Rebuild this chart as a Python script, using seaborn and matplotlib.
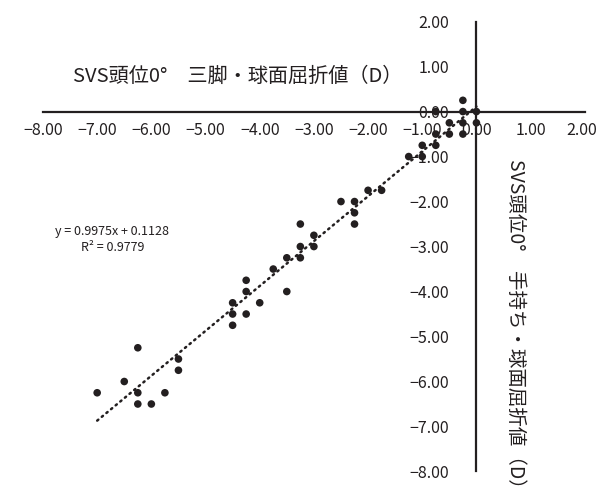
import numpy as np
import pandas as pd
import matplotlib
matplotlib.use('Agg')
import matplotlib.pyplot as plt
import matplotlib.transforms as mtransforms
import seaborn as sns

# SVS head position 0 deg: tripod (x) vs hand-held (y) spherical refraction (D)
tripod = [-7.00, -6.50, -6.25, -6.25, -6.25, -6.00, -5.75, -5.50, -5.50,
          -4.50, -4.50, -4.50, -4.25, -4.25, -4.25, -4.00, -3.75, -3.50,
          -3.50, -3.25, -3.25, -3.25, -3.00, -3.00, -2.50, -2.25, -2.25,
          -2.25, -2.00, -1.75, -1.25, -1.00, -1.00, -0.75, -0.75, -0.50,
          -0.25, -0.50, -0.25, 0.00, -0.75, -0.25, 0.00, -0.25]
handheld = [-6.25, -6.00, -5.25, -6.25, -6.50, -6.50, -6.25, -5.50, -5.75,
            -4.25, -4.50, -4.75, -4.50, -4.00, -3.75, -4.25, -3.50, -4.00,
            -3.25, -3.25, -3.00, -2.50, -3.00, -2.75, -2.00, -2.00, -2.25,
            -2.50, -1.75, -1.75, -1.00, -1.00, -0.75, -0.75, -0.50, -0.50,
            -0.50, -0.25, -0.25, -0.25, 0.00, 0.00, 0.00, 0.25]
slope = 0.9975
intercept = 0.1128
r2 = 0.9779
ticks = [-8, -7, -6, -5, -4, -3, -2, -1, 0, 1, 2]
tick_labels = ['−8.00', '−7.00', '−6.00', '−5.00', '−4.00', '−3.00',
               '−2.00', '−1.00', '0.00', '1.00', '2.00']
x_title = 'SVS頭位0°\u3000三脚・球面屈折値（D）'
y_title = 'SVS頭位0°\u3000手持ち・球面屈折値（D）'

df = pd.DataFrame({'tripod': tripod, 'handheld': handheld})

sns.set_style('white')
plt.rcParams['font.family'] = ['Noto Sans CJK JP', 'DejaVu Sans']

fig = plt.figure(figsize=(5.98, 5.01), dpi=100)
ax = fig.add_axes([0.0719, 0.0589, 0.906, 0.898])

ink = '#231f20'
sns.scatterplot(data=df, x='tripod', y='handheld', ax=ax, color=ink,
                s=30, edgecolor='none', legend=False, zorder=3)

# linear trendline over the data range
xs = np.array([df['tripod'].min(), df['tripod'].max()])
ax.plot(xs, slope * xs + intercept, color=ink, lw=1.8,
        linestyle=(0, (0.6, 1.8)), dash_capstyle='round', zorder=2)

ax.set_xlim(-8, 2)
ax.set_ylim(-8, 2)
ax.spines['left'].set_position(('data', 0))
ax.spines['bottom'].set_position(('data', 0))
ax.spines['right'].set_visible(False)
ax.spines['top'].set_visible(False)
for s in ('left', 'bottom'):
    ax.spines[s].set_linewidth(1.6)
    ax.spines[s].set_color(ink)

ax.set_xticks(ticks)
ax.set_xticklabels(tick_labels)
ax.set_yticks(ticks)
ax.set_yticklabels(tick_labels)
ax.tick_params(axis='x', direction='out', length=3.5, width=1.4, color=ink,
               pad=4, labelsize=11.5, labelcolor=ink)
ax.tick_params(axis='y', direction='out', length=3.5, width=1.4, color=ink,
               pad=16, labelsize=11.5, labelcolor=ink)
ax.set_xlabel('')
ax.set_ylabel('')
ax.grid(False)

# keep the last x label inside the figure, like the original
last = ax.get_xticklabels()[-1]
last.set_horizontalalignment('right')
last.set_transform(last.get_transform() +
                   mtransforms.ScaledTranslation(0.12, 0, fig.dpi_scale_trans))

fig.text(238 / 598, 1 - 76 / 501, x_title, ha='center', va='center',
         fontsize=14.5, color=ink)
fig.text(516 / 598, 1 - 328 / 501, y_title, ha='center', va='center',
         rotation=-90, fontsize=14, color=ink)

ax.text(-6.72, -2.66, f'y = {slope:.4f}x + {intercept:.4f}', ha='center',
        va='center', fontsize=9, color=ink)
ax.text(-6.72, -3.02, f'R² = {r2:.4f}', ha='center', va='center',
        fontsize=9, color=ink)

fig.savefig('out.png', dpi=100, facecolor='white')
